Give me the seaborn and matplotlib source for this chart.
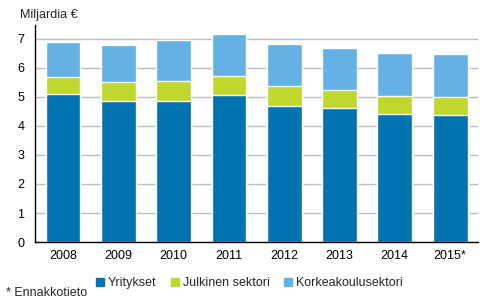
import matplotlib
matplotlib.use("Agg")
import matplotlib.pyplot as plt
from matplotlib.lines import Line2D
import seaborn as sns
import pandas as pd
import numpy as np

years = ["2008", "2009", "2010", "2011", "2012", "2013", "2014", "2015*"]
yritykset = [5.09, 4.86, 4.86, 5.05, 4.67, 4.60, 4.40, 4.36]
julkinen = [0.58, 0.65, 0.67, 0.65, 0.69, 0.62, 0.62, 0.62]
korkeakoulu = [1.20, 1.26, 1.41, 1.45, 1.44, 1.45, 1.47, 1.48]
series_names = ["Yritykset", "Julkinen sektori", "Korkeakoulusektori"]
colors = ["#0073b0", "#c0d72d", "#63b1e5"]

sns.set_theme(style="white")
plt.rcParams["font.family"] = ["Liberation Sans", "DejaVu Sans"]
plt.rcParams["font.size"] = 9

df = pd.DataFrame({
    "year": years,
    "y": yritykset,
    "yj": np.array(yritykset) + np.array(julkinen),
    "total": np.array(yritykset) + np.array(julkinen) + np.array(korkeakoulu),
})

fig = plt.figure(figsize=(4.92, 3.03), dpi=100)
ax = fig.add_axes([0.072, 0.201, 0.899, 0.716])

sns.barplot(data=df, x="year", y="total", color=colors[2], width=0.63, ax=ax, saturation=1)
sns.barplot(data=df, x="year", y="yj", color=colors[1], width=0.63, ax=ax, saturation=1)
sns.barplot(data=df, x="year", y="y", color=colors[0], width=0.63, ax=ax, saturation=1)

ax.set_ylim(0, 7.46)
ax.set_xlim(-0.5, 7.5)
ax.set_yticks(range(0, 8))
ax.set_xlabel("")
ax.set_ylabel("")
ax.yaxis.grid(True, color="#bebebe", linewidth=1)
ax.set_axisbelow(True)
for s in ["top", "right"]:
    ax.spines[s].set_visible(False)
for s in ["left", "bottom"]:
    ax.spines[s].set_color("black")
    ax.spines[s].set_linewidth(1)
ax.tick_params(axis="both", length=0, labelsize=9, colors="black")
ax.tick_params(axis="y", pad=8)
ax.tick_params(axis="x", pad=6)

fig.text(20 / 492, 1 - 15 / 303, "Miljardia €", fontsize=9, va="center", ha="left")
fig.text(6 / 492, 1 - 293 / 303, "* Ennakkotieto", fontsize=9, va="center", ha="left")

handles = [Line2D([0], [0], marker="s", linestyle="", markersize=6,
                  markerfacecolor=c, markeredgecolor=c) for c in colors]
fig.legend(handles, series_names, loc="center", bbox_to_anchor=(0.505, 1 - 283 / 303),
           ncol=3, frameon=False, fontsize=9, handletextpad=0.1, columnspacing=1.0,
           handlelength=1.0)

fig.savefig("out.png", dpi=100)
